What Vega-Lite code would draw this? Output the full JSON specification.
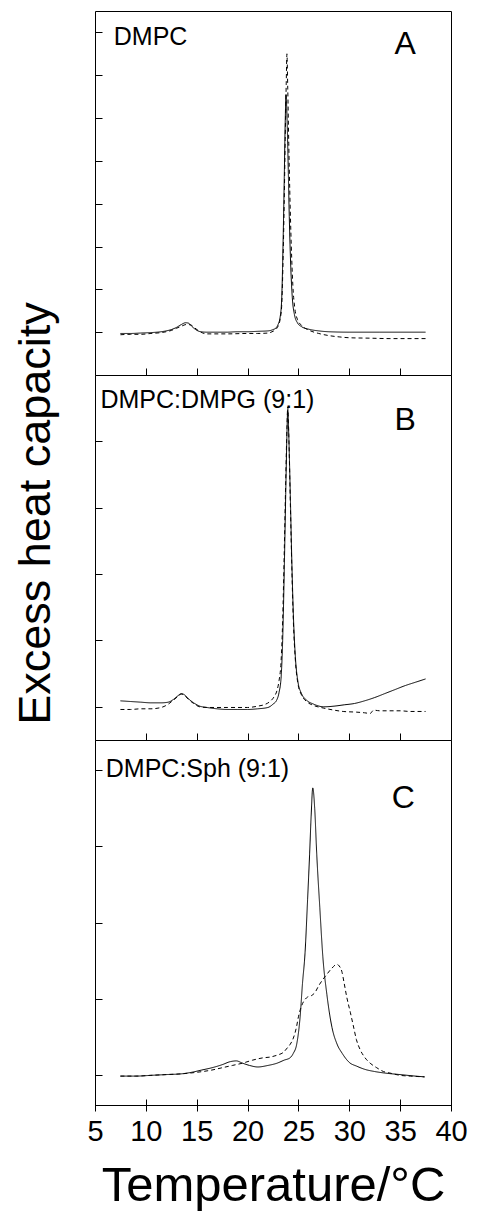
{
  "$schema": "https://vega.github.io/schema/vega-lite/v6.json",
  "padding": {"left": 12, "top": 10, "right": 10, "bottom": 5},
  "background": "white",
  "spacing": 0,
  "bounds": "flush",
  "config": {
    "view": {"stroke": "black", "strokeWidth": 1},
    "font": "Liberation Sans",
    "axis": {"domain": false, "grid": false, "tickColor": "black", "tickWidth": 1, "labelColor": "black", "titleColor": "black", "labelFont": "Liberation Sans", "titleFont": "Liberation Sans"}
  },
  "datasets": {
    "curves": [
      {"panel":"A","series":"solid","t":7.5,"cp":-0.03},{"panel":"A","series":"solid","t":8.5,"cp":-0.03},{"panel":"A","series":"solid","t":9.5,"cp":-0.02},{"panel":"A","series":"solid","t":10.5,"cp":-0.01},{"panel":"A","series":"solid","t":11.5,"cp":0.01},{"panel":"A","series":"solid","t":12,"cp":0.03},{"panel":"A","series":"solid","t":12.5,"cp":0.06},{"panel":"A","series":"solid","t":13,"cp":0.11},{"panel":"A","series":"solid","t":13.5,"cp":0.18},{"panel":"A","series":"solid","t":13.9,"cp":0.22},{"panel":"A","series":"solid","t":14.2,"cp":0.21},{"panel":"A","series":"solid","t":14.5,"cp":0.14},{"panel":"A","series":"solid","t":14.9,"cp":0.06},{"panel":"A","series":"solid","t":15.4,"cp":0.01},{"panel":"A","series":"solid","t":16,"cp":0.0},{"panel":"A","series":"solid","t":17,"cp":0.0},{"panel":"A","series":"solid","t":18,"cp":0.0},{"panel":"A","series":"solid","t":19,"cp":0.01},{"panel":"A","series":"solid","t":20,"cp":0.01},{"panel":"A","series":"solid","t":21,"cp":0.02},{"panel":"A","series":"solid","t":22,"cp":0.03},{"panel":"A","series":"solid","t":22.5,"cp":0.06},{"panel":"A","series":"solid","t":22.8,"cp":0.1},{"panel":"A","series":"solid","t":23.0,"cp":0.18},{"panel":"A","series":"solid","t":23.2,"cp":0.35},{"panel":"A","series":"solid","t":23.35,"cp":0.75},{"panel":"A","series":"solid","t":23.5,"cp":2.2},{"panel":"A","series":"solid","t":23.6,"cp":3.5},{"panel":"A","series":"solid","t":23.7,"cp":4.9},{"panel":"A","series":"solid","t":23.78,"cp":5.55},{"panel":"A","series":"solid","t":23.88,"cp":5.0},{"panel":"A","series":"solid","t":24.0,"cp":3.8},{"panel":"A","series":"solid","t":24.1,"cp":2.7},{"panel":"A","series":"solid","t":24.25,"cp":1.5},{"panel":"A","series":"solid","t":24.4,"cp":0.8},{"panel":"A","series":"solid","t":24.6,"cp":0.42},{"panel":"A","series":"solid","t":24.9,"cp":0.22},{"panel":"A","series":"solid","t":25.3,"cp":0.13},{"panel":"A","series":"solid","t":26,"cp":0.07},{"panel":"A","series":"solid","t":27,"cp":0.03},{"panel":"A","series":"solid","t":28,"cp":0.01},{"panel":"A","series":"solid","t":30,"cp":0.0},{"panel":"A","series":"solid","t":33,"cp":0.0},{"panel":"A","series":"solid","t":37.5,"cp":0.0},
      {"panel":"A","series":"dashed","t":7.5,"cp":-0.06},{"panel":"A","series":"dashed","t":8.5,"cp":-0.05},{"panel":"A","series":"dashed","t":9.5,"cp":-0.05},{"panel":"A","series":"dashed","t":10.5,"cp":-0.03},{"panel":"A","series":"dashed","t":11.5,"cp":-0.01},{"panel":"A","series":"dashed","t":12,"cp":0.01},{"panel":"A","series":"dashed","t":12.5,"cp":0.04},{"panel":"A","series":"dashed","t":13,"cp":0.09},{"panel":"A","series":"dashed","t":13.5,"cp":0.14},{"panel":"A","series":"dashed","t":14,"cp":0.18},{"panel":"A","series":"dashed","t":14.4,"cp":0.17},{"panel":"A","series":"dashed","t":14.8,"cp":0.1},{"panel":"A","series":"dashed","t":15.2,"cp":0.03},{"panel":"A","series":"dashed","t":15.6,"cp":-0.02},{"panel":"A","series":"dashed","t":16,"cp":-0.04},{"panel":"A","series":"dashed","t":18,"cp":-0.04},{"panel":"A","series":"dashed","t":20,"cp":-0.03},{"panel":"A","series":"dashed","t":21,"cp":-0.03},{"panel":"A","series":"dashed","t":22,"cp":-0.02},{"panel":"A","series":"dashed","t":22.5,"cp":0.02},{"panel":"A","series":"dashed","t":22.8,"cp":0.07},{"panel":"A","series":"dashed","t":23.0,"cp":0.14},{"panel":"A","series":"dashed","t":23.2,"cp":0.3},{"panel":"A","series":"dashed","t":23.35,"cp":0.6},{"panel":"A","series":"dashed","t":23.5,"cp":1.8},{"panel":"A","series":"dashed","t":23.6,"cp":3.0},{"panel":"A","series":"dashed","t":23.7,"cp":4.5},{"panel":"A","series":"dashed","t":23.8,"cp":5.8},{"panel":"A","series":"dashed","t":23.87,"cp":6.5},{"panel":"A","series":"dashed","t":23.95,"cp":5.7},{"panel":"A","series":"dashed","t":24.05,"cp":4.4},{"panel":"A","series":"dashed","t":24.15,"cp":3.3},{"panel":"A","series":"dashed","t":24.3,"cp":2.0},{"panel":"A","series":"dashed","t":24.45,"cp":1.1},{"panel":"A","series":"dashed","t":24.65,"cp":0.55},{"panel":"A","series":"dashed","t":24.9,"cp":0.3},{"panel":"A","series":"dashed","t":25.3,"cp":0.16},{"panel":"A","series":"dashed","t":26,"cp":0.05},{"panel":"A","series":"dashed","t":27,"cp":-0.03},{"panel":"A","series":"dashed","t":28,"cp":-0.08},{"panel":"A","series":"dashed","t":29,"cp":-0.11},{"panel":"A","series":"dashed","t":30,"cp":-0.13},{"panel":"A","series":"dashed","t":32,"cp":-0.14},{"panel":"A","series":"dashed","t":34,"cp":-0.15},{"panel":"A","series":"dashed","t":37.5,"cp":-0.15},
      {"panel":"B","series":"solid","t":7.5,"cp":0.09},{"panel":"B","series":"solid","t":8.5,"cp":0.08},{"panel":"B","series":"solid","t":9.5,"cp":0.07},{"panel":"B","series":"solid","t":10.5,"cp":0.06},{"panel":"B","series":"solid","t":11.5,"cp":0.06},{"panel":"B","series":"solid","t":12.2,"cp":0.07},{"panel":"B","series":"solid","t":12.7,"cp":0.11},{"panel":"B","series":"solid","t":13.1,"cp":0.16},{"panel":"B","series":"solid","t":13.5,"cp":0.2},{"panel":"B","series":"solid","t":13.8,"cp":0.18},{"panel":"B","series":"solid","t":14.2,"cp":0.12},{"panel":"B","series":"solid","t":14.7,"cp":0.06},{"panel":"B","series":"solid","t":15.3,"cp":0.01},{"panel":"B","series":"solid","t":16,"cp":-0.01},{"panel":"B","series":"solid","t":17,"cp":-0.03},{"panel":"B","series":"solid","t":18,"cp":-0.04},{"panel":"B","series":"solid","t":19,"cp":-0.04},{"panel":"B","series":"solid","t":20,"cp":-0.04},{"panel":"B","series":"solid","t":21,"cp":-0.03},{"panel":"B","series":"solid","t":22,"cp":-0.01},{"panel":"B","series":"solid","t":22.5,"cp":0.04},{"panel":"B","series":"solid","t":22.86,"cp":0.1},{"panel":"B","series":"solid","t":23.1,"cp":0.22},{"panel":"B","series":"solid","t":23.3,"cp":0.45},{"panel":"B","series":"solid","t":23.45,"cp":1.0},{"panel":"B","series":"solid","t":23.6,"cp":2.0},{"panel":"B","series":"solid","t":23.75,"cp":3.2},{"panel":"B","series":"solid","t":23.87,"cp":4.1},{"panel":"B","series":"solid","t":23.95,"cp":4.48},{"panel":"B","series":"solid","t":24.05,"cp":4.1},{"panel":"B","series":"solid","t":24.2,"cp":3.2},{"panel":"B","series":"solid","t":24.35,"cp":2.2},{"panel":"B","series":"solid","t":24.5,"cp":1.4},{"panel":"B","series":"solid","t":24.7,"cp":0.75},{"panel":"B","series":"solid","t":24.95,"cp":0.38},{"panel":"B","series":"solid","t":25.3,"cp":0.2},{"panel":"B","series":"solid","t":25.8,"cp":0.1},{"panel":"B","series":"solid","t":26.5,"cp":0.04},{"panel":"B","series":"solid","t":27.5,"cp":0.0},{"panel":"B","series":"solid","t":28.5,"cp":0.01},{"panel":"B","series":"solid","t":29.5,"cp":0.03},{"panel":"B","series":"solid","t":30.5,"cp":0.05},{"panel":"B","series":"solid","t":31.5,"cp":0.09},{"panel":"B","series":"solid","t":32.5,"cp":0.14},{"panel":"B","series":"solid","t":33.5,"cp":0.2},{"panel":"B","series":"solid","t":34.5,"cp":0.26},{"panel":"B","series":"solid","t":35.5,"cp":0.32},{"panel":"B","series":"solid","t":36.5,"cp":0.37},{"panel":"B","series":"solid","t":37.5,"cp":0.42},
      {"panel":"B","series":"dashed","t":7.5,"cp":-0.04},{"panel":"B","series":"dashed","t":8.5,"cp":-0.04},{"panel":"B","series":"dashed","t":9.5,"cp":-0.03},{"panel":"B","series":"dashed","t":10.5,"cp":-0.03},{"panel":"B","series":"dashed","t":11.5,"cp":-0.01},{"panel":"B","series":"dashed","t":12.2,"cp":0.04},{"panel":"B","series":"dashed","t":12.7,"cp":0.1},{"panel":"B","series":"dashed","t":13.1,"cp":0.15},{"panel":"B","series":"dashed","t":13.5,"cp":0.19},{"panel":"B","series":"dashed","t":13.8,"cp":0.17},{"panel":"B","series":"dashed","t":14.2,"cp":0.11},{"panel":"B","series":"dashed","t":14.7,"cp":0.05},{"panel":"B","series":"dashed","t":15.3,"cp":0.0},{"panel":"B","series":"dashed","t":16,"cp":-0.01},{"panel":"B","series":"dashed","t":18,"cp":-0.01},{"panel":"B","series":"dashed","t":20,"cp":-0.01},{"panel":"B","series":"dashed","t":21,"cp":0.01},{"panel":"B","series":"dashed","t":21.6,"cp":0.03},{"panel":"B","series":"dashed","t":22.2,"cp":0.08},{"panel":"B","series":"dashed","t":22.6,"cp":0.15},{"panel":"B","series":"dashed","t":22.9,"cp":0.25},{"panel":"B","series":"dashed","t":23.1,"cp":0.4},{"panel":"B","series":"dashed","t":23.3,"cp":0.7},{"panel":"B","series":"dashed","t":23.45,"cp":1.3},{"panel":"B","series":"dashed","t":23.6,"cp":2.3},{"panel":"B","series":"dashed","t":23.75,"cp":3.4},{"panel":"B","series":"dashed","t":23.87,"cp":4.2},{"panel":"B","series":"dashed","t":23.95,"cp":4.52},{"panel":"B","series":"dashed","t":24.05,"cp":4.1},{"panel":"B","series":"dashed","t":24.2,"cp":3.1},{"panel":"B","series":"dashed","t":24.35,"cp":2.1},{"panel":"B","series":"dashed","t":24.5,"cp":1.3},{"panel":"B","series":"dashed","t":24.7,"cp":0.7},{"panel":"B","series":"dashed","t":24.95,"cp":0.35},{"panel":"B","series":"dashed","t":25.3,"cp":0.18},{"panel":"B","series":"dashed","t":25.8,"cp":0.08},{"panel":"B","series":"dashed","t":26.5,"cp":0.02},{"panel":"B","series":"dashed","t":27.5,"cp":-0.02},{"panel":"B","series":"dashed","t":28.5,"cp":-0.05},{"panel":"B","series":"dashed","t":29.4,"cp":-0.07},{"panel":"B","series":"dashed","t":30.7,"cp":-0.08},{"panel":"B","series":"dashed","t":31.5,"cp":-0.09},{"panel":"B","series":"dashed","t":32.05,"cp":-0.1},{"panel":"B","series":"dashed","t":32.4,"cp":-0.05},{"panel":"B","series":"dashed","t":33,"cp":-0.06},{"panel":"B","series":"dashed","t":34,"cp":-0.06},{"panel":"B","series":"dashed","t":35,"cp":-0.06},{"panel":"B","series":"dashed","t":36,"cp":-0.07},{"panel":"B","series":"dashed","t":37.5,"cp":-0.07},
      {"panel":"C","series":"solid","t":7.5,"cp":-0.02},{"panel":"C","series":"solid","t":9,"cp":-0.02},{"panel":"C","series":"solid","t":10.5,"cp":-0.01},{"panel":"C","series":"solid","t":12,"cp":0.0},{"panel":"C","series":"solid","t":13.5,"cp":0.01},{"panel":"C","series":"solid","t":14.5,"cp":0.03},{"panel":"C","series":"solid","t":15.5,"cp":0.06},{"panel":"C","series":"solid","t":16.5,"cp":0.09},{"panel":"C","series":"solid","t":17.5,"cp":0.13},{"panel":"C","series":"solid","t":18.3,"cp":0.17},{"panel":"C","series":"solid","t":18.9,"cp":0.18},{"panel":"C","series":"solid","t":19.5,"cp":0.15},{"panel":"C","series":"solid","t":20.2,"cp":0.12},{"panel":"C","series":"solid","t":21,"cp":0.1},{"panel":"C","series":"solid","t":22,"cp":0.12},{"panel":"C","series":"solid","t":22.9,"cp":0.15},{"panel":"C","series":"solid","t":23.6,"cp":0.19},{"panel":"C","series":"solid","t":24.17,"cp":0.22},{"panel":"C","series":"solid","t":24.5,"cp":0.28},{"panel":"C","series":"solid","t":24.83,"cp":0.4},{"panel":"C","series":"solid","t":25.16,"cp":0.75},{"panel":"C","series":"solid","t":25.4,"cp":1.2},{"panel":"C","series":"solid","t":25.65,"cp":1.6},{"panel":"C","series":"solid","t":25.9,"cp":2.3},{"panel":"C","series":"solid","t":26.1,"cp":2.9},{"panel":"C","series":"solid","t":26.25,"cp":3.4},{"panel":"C","series":"solid","t":26.41,"cp":3.77},{"panel":"C","series":"solid","t":26.6,"cp":3.5},{"panel":"C","series":"solid","t":26.8,"cp":2.9},{"panel":"C","series":"solid","t":27.1,"cp":2.2},{"panel":"C","series":"solid","t":27.4,"cp":1.55},{"panel":"C","series":"solid","t":27.8,"cp":1.05},{"panel":"C","series":"solid","t":28.3,"cp":0.62},{"panel":"C","series":"solid","t":28.8,"cp":0.4},{"panel":"C","series":"solid","t":29.3,"cp":0.28},{"panel":"C","series":"solid","t":30,"cp":0.16},{"panel":"C","series":"solid","t":30.74,"cp":0.11},{"panel":"C","series":"solid","t":31.5,"cp":0.07},{"panel":"C","series":"solid","t":32.5,"cp":0.04},{"panel":"C","series":"solid","t":33.5,"cp":0.02},{"panel":"C","series":"solid","t":35,"cp":0.0},{"panel":"C","series":"solid","t":36.5,"cp":-0.02},{"panel":"C","series":"solid","t":37.4,"cp":-0.03},
      {"panel":"C","series":"dashed","t":7.5,"cp":-0.02},{"panel":"C","series":"dashed","t":9,"cp":-0.02},{"panel":"C","series":"dashed","t":10.5,"cp":-0.01},{"panel":"C","series":"dashed","t":12,"cp":0.0},{"panel":"C","series":"dashed","t":13.5,"cp":0.01},{"panel":"C","series":"dashed","t":15,"cp":0.03},{"panel":"C","series":"dashed","t":16.5,"cp":0.06},{"panel":"C","series":"dashed","t":17.5,"cp":0.09},{"panel":"C","series":"dashed","t":18.5,"cp":0.12},{"panel":"C","series":"dashed","t":19.5,"cp":0.15},{"panel":"C","series":"dashed","t":20.5,"cp":0.19},{"panel":"C","series":"dashed","t":21.5,"cp":0.22},{"panel":"C","series":"dashed","t":22.2,"cp":0.23},{"panel":"C","series":"dashed","t":23,"cp":0.26},{"panel":"C","series":"dashed","t":23.5,"cp":0.29},{"panel":"C","series":"dashed","t":23.9,"cp":0.35},{"panel":"C","series":"dashed","t":24.2,"cp":0.4},{"panel":"C","series":"dashed","t":24.5,"cp":0.48},{"panel":"C","series":"dashed","t":24.8,"cp":0.62},{"panel":"C","series":"dashed","t":25.0,"cp":0.76},{"panel":"C","series":"dashed","t":25.3,"cp":0.9},{"panel":"C","series":"dashed","t":25.6,"cp":0.98},{"panel":"C","series":"dashed","t":25.9,"cp":1.02},{"panel":"C","series":"dashed","t":26.3,"cp":1.04},{"panel":"C","series":"dashed","t":26.63,"cp":1.08},{"panel":"C","series":"dashed","t":27.0,"cp":1.17},{"panel":"C","series":"dashed","t":27.4,"cp":1.25},{"panel":"C","series":"dashed","t":27.8,"cp":1.32},{"panel":"C","series":"dashed","t":28.3,"cp":1.4},{"panel":"C","series":"dashed","t":28.77,"cp":1.45},{"panel":"C","series":"dashed","t":29.0,"cp":1.43},{"panel":"C","series":"dashed","t":29.26,"cp":1.36},{"panel":"C","series":"dashed","t":29.5,"cp":1.2},{"panel":"C","series":"dashed","t":29.75,"cp":1.02},{"panel":"C","series":"dashed","t":30.1,"cp":0.82},{"panel":"C","series":"dashed","t":30.4,"cp":0.64},{"panel":"C","series":"dashed","t":30.7,"cp":0.46},{"panel":"C","series":"dashed","t":31.06,"cp":0.33},{"panel":"C","series":"dashed","t":31.5,"cp":0.23},{"panel":"C","series":"dashed","t":32.05,"cp":0.15},{"panel":"C","series":"dashed","t":32.7,"cp":0.09},{"panel":"C","series":"dashed","t":33.36,"cp":0.04},{"panel":"C","series":"dashed","t":34,"cp":0.02},{"panel":"C","series":"dashed","t":35,"cp":-0.01},{"panel":"C","series":"dashed","t":36,"cp":-0.02},{"panel":"C","series":"dashed","t":37.4,"cp":-0.03}
    ],
    "labels": [
      {"panel":"A","kind":"name","label":"DMPC","t":6.85,"cp":6.71},
      {"panel":"B","kind":"name","label":"DMPC:DMPG (9:1)","t":5.54,"cp":4.51},
      {"panel":"C","kind":"name","label":"DMPC:Sph (9:1)","t":6.06,"cp":3.92},
      {"panel":"A","kind":"letter","label":"A","t":35.5,"cp":6.5},
      {"panel":"B","kind":"letter","label":"B","t":35.5,"cp":4.17},
      {"panel":"C","kind":"letter","label":"C","t":35.3,"cp":3.5}
    ]
  },
  "vconcat": [
    {
      "width": 356, "height": 364,
      "layer": [
        {
          "data": {"name": "curves"},
          "transform": [{"filter": "datum.panel === 'A'"}],
          "mark": {"type": "line", "color": "black", "strokeWidth": 1, "interpolate": "monotone"},
          "encoding": {
            "x": {"field": "t", "type": "quantitative", "scale": {"domain": [5, 40], "nice": false, "zero": false}, "axis": {"values": [10, 15, 20, 25, 30, 35], "labels": false, "tickSize": -7, "title": null}},
            "y": {"field": "cp", "type": "quantitative", "scale": {"domain": [-1, 7.5], "nice": false, "zero": false}, "axis": {"values": [0, 1, 2, 3, 4, 5, 6, 7], "labels": false, "tickSize": -7, "title": null}},
            "strokeDash": {"field": "series", "type": "nominal", "scale": {"domain": ["solid", "dashed"], "range": [[1, 0], [4, 3]]}, "legend": null}
          }
        },
        {
          "data": {"name": "labels"},
          "transform": [{"filter": "datum.panel === 'A' && datum.kind === 'name'"}],
          "mark": {"type": "text", "align": "left", "baseline": "alphabetic", "fontSize": 25, "font": "Liberation Sans", "color": "black"},
          "encoding": {"x": {"field": "t", "type": "quantitative"}, "y": {"field": "cp", "type": "quantitative"}, "text": {"field": "label"}}
        },
        {
          "data": {"name": "labels"},
          "transform": [{"filter": "datum.panel === 'A' && datum.kind === 'letter'"}],
          "mark": {"type": "text", "align": "center", "baseline": "alphabetic", "fontSize": 32, "font": "Liberation Sans", "color": "black"},
          "encoding": {"x": {"field": "t", "type": "quantitative"}, "y": {"field": "cp", "type": "quantitative"}, "text": {"field": "label"}}
        }
      ]
    },
    {
      "width": 356, "height": 365,
      "layer": [
        {
          "data": {"name": "curves"},
          "transform": [{"filter": "datum.panel === 'B'"}],
          "mark": {"type": "line", "color": "black", "strokeWidth": 1, "interpolate": "monotone"},
          "encoding": {
            "x": {"field": "t", "type": "quantitative", "scale": {"domain": [5, 40], "nice": false, "zero": false}, "axis": {"values": [10, 15, 20, 25, 30, 35], "labels": false, "tickSize": -7, "title": null}},
            "y": {"field": "cp", "type": "quantitative", "scale": {"domain": [-0.5, 5], "nice": false, "zero": false}, "axis": {"values": [0, 1, 2, 3, 4], "labels": false, "tickSize": -7, "title": "Excess heat capacity", "titleFontSize": 45, "titleFontWeight": "normal", "titleAngle": 270, "titleAlign": "center", "titleBaseline": "alphabetic", "titleX": -46, "titleY": 138}},
            "strokeDash": {"field": "series", "type": "nominal", "scale": {"domain": ["solid", "dashed"], "range": [[1, 0], [4, 3]]}, "legend": null}
          }
        },
        {
          "data": {"name": "labels"},
          "transform": [{"filter": "datum.panel === 'B' && datum.kind === 'name'"}],
          "mark": {"type": "text", "align": "left", "baseline": "alphabetic", "fontSize": 25, "font": "Liberation Sans", "color": "black"},
          "encoding": {"x": {"field": "t", "type": "quantitative"}, "y": {"field": "cp", "type": "quantitative"}, "text": {"field": "label"}}
        },
        {
          "data": {"name": "labels"},
          "transform": [{"filter": "datum.panel === 'B' && datum.kind === 'letter'"}],
          "mark": {"type": "text", "align": "center", "baseline": "alphabetic", "fontSize": 32, "font": "Liberation Sans", "color": "black"},
          "encoding": {"x": {"field": "t", "type": "quantitative"}, "y": {"field": "cp", "type": "quantitative"}, "text": {"field": "label"}}
        }
      ]
    },
    {
      "width": 356, "height": 365,
      "layer": [
        {
          "data": {"name": "curves"},
          "transform": [{"filter": "datum.panel === 'C'"}],
          "mark": {"type": "line", "color": "black", "strokeWidth": 1, "interpolate": "monotone"},
          "encoding": {
            "x": {"field": "t", "type": "quantitative", "scale": {"domain": [5, 40], "nice": false, "zero": false}, "axis": {"values": [5, 10, 15, 20, 25, 30, 35, 40], "tickSize": 12, "offset": -6, "labelFontSize": 29, "labelPadding": 6, "labelFlush": false, "title": "Temperature/°C", "titleFontSize": 49, "titleFontWeight": "normal", "titleBaseline": "alphabetic", "titleY": 101}},
            "y": {"field": "cp", "type": "quantitative", "scale": {"domain": [-0.4, 4.4], "nice": false, "zero": false}, "axis": {"values": [0, 1, 2, 3, 4], "labels": false, "tickSize": -7, "title": null}},
            "strokeDash": {"field": "series", "type": "nominal", "scale": {"domain": ["solid", "dashed"], "range": [[1, 0], [4, 3]]}, "legend": null}
          }
        },
        {
          "data": {"name": "labels"},
          "transform": [{"filter": "datum.panel === 'C' && datum.kind === 'name'"}],
          "mark": {"type": "text", "align": "left", "baseline": "alphabetic", "fontSize": 25, "font": "Liberation Sans", "color": "black"},
          "encoding": {"x": {"field": "t", "type": "quantitative"}, "y": {"field": "cp", "type": "quantitative"}, "text": {"field": "label"}}
        },
        {
          "data": {"name": "labels"},
          "transform": [{"filter": "datum.panel === 'C' && datum.kind === 'letter'"}],
          "mark": {"type": "text", "align": "center", "baseline": "alphabetic", "fontSize": 32, "font": "Liberation Sans", "color": "black"},
          "encoding": {"x": {"field": "t", "type": "quantitative"}, "y": {"field": "cp", "type": "quantitative"}, "text": {"field": "label"}}
        }
      ]
    }
  ]
}
